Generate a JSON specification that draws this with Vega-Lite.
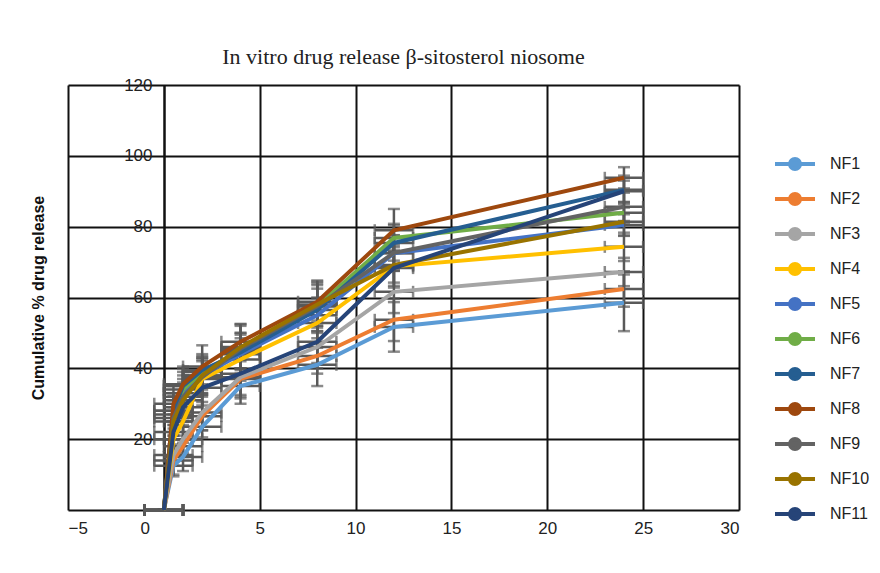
{
  "$schema": "https://vega.github.io/schema/vega-lite/v6.json",
  "width": 671,
  "height": 425,
  "autosize": "none",
  "padding": {"left": 68, "top": 85, "right": 141, "bottom": 63},
  "background": "white",
  "title": {
    "text": "In vitro drug release β-sitosterol niosome",
    "font": "Liberation Serif",
    "fontSize": 22,
    "fontWeight": "normal",
    "color": "#222222",
    "anchor": "middle",
    "offset": 7
  },
  "data": {
    "values": [
      {"f":"NF1","t":0,"v":0,"e":0,"h":1},{"f":"NF1","t":0.5,"v":12.5,"e":3,"h":1},{"f":"NF1","t":1,"v":15,"e":4,"h":1},{"f":"NF1","t":2,"v":23.5,"e":3,"h":1},{"f":"NF1","t":4,"v":35,"e":5,"h":1},{"f":"NF1","t":8,"v":41,"e":6,"h":1},{"f":"NF1","t":12,"v":51.7,"e":7,"h":1},{"f":"NF1","t":24,"v":58.5,"e":8,"h":1},
      {"f":"NF2","t":0,"v":0,"e":0,"h":1},{"f":"NF2","t":0.5,"v":14,"e":4,"h":1},{"f":"NF2","t":1,"v":18,"e":3,"h":1},{"f":"NF2","t":2,"v":26.5,"e":4,"h":1},{"f":"NF2","t":4,"v":37,"e":5,"h":1},{"f":"NF2","t":8,"v":43.5,"e":5,"h":1},{"f":"NF2","t":12,"v":53.7,"e":6,"h":1},{"f":"NF2","t":24,"v":62.4,"e":5,"h":1},
      {"f":"NF3","t":0,"v":0,"e":0,"h":1},{"f":"NF3","t":0.5,"v":15.5,"e":3,"h":1},{"f":"NF3","t":1,"v":20,"e":4,"h":1},{"f":"NF3","t":2,"v":27.5,"e":5,"h":1},{"f":"NF3","t":4,"v":37.5,"e":6,"h":1},{"f":"NF3","t":8,"v":46,"e":6,"h":1},{"f":"NF3","t":12,"v":61.6,"e":6,"h":1},{"f":"NF3","t":24,"v":67.2,"e":4,"h":1},
      {"f":"NF4","t":0,"v":0,"e":0,"h":1},{"f":"NF4","t":0.5,"v":20,"e":4,"h":1},{"f":"NF4","t":1,"v":25,"e":5,"h":1},{"f":"NF4","t":2,"v":37,"e":5,"h":1},{"f":"NF4","t":4,"v":42.5,"e":6,"h":1},{"f":"NF4","t":8,"v":52.8,"e":7,"h":1},{"f":"NF4","t":12,"v":68.8,"e":6,"h":1},{"f":"NF4","t":24,"v":74.3,"e":4,"h":1},
      {"f":"NF5","t":0,"v":0,"e":0,"h":1},{"f":"NF5","t":0.5,"v":27,"e":5,"h":1},{"f":"NF5","t":1,"v":33,"e":4,"h":1},{"f":"NF5","t":2,"v":38,"e":5,"h":1},{"f":"NF5","t":4,"v":44,"e":6,"h":1},{"f":"NF5","t":8,"v":55,"e":5,"h":1},{"f":"NF5","t":12,"v":72.5,"e":5,"h":1},{"f":"NF5","t":24,"v":80.5,"e":3,"h":1},
      {"f":"NF6","t":0,"v":0,"e":0,"h":1},{"f":"NF6","t":0.5,"v":28,"e":4,"h":1},{"f":"NF6","t":1,"v":34,"e":5,"h":1},{"f":"NF6","t":2,"v":39,"e":5,"h":1},{"f":"NF6","t":4,"v":45,"e":5,"h":1},{"f":"NF6","t":8,"v":57.5,"e":6,"h":1},{"f":"NF6","t":12,"v":76.8,"e":4,"h":1},{"f":"NF6","t":24,"v":83.9,"e":3,"h":1},
      {"f":"NF7","t":0,"v":0,"e":0,"h":1},{"f":"NF7","t":0.5,"v":28,"e":5,"h":1},{"f":"NF7","t":1,"v":35,"e":5,"h":1},{"f":"NF7","t":2,"v":39.5,"e":4,"h":1},{"f":"NF7","t":4,"v":44.5,"e":5,"h":1},{"f":"NF7","t":8,"v":56.5,"e":6,"h":1},{"f":"NF7","t":12,"v":75.4,"e":5,"h":1},{"f":"NF7","t":24,"v":90.4,"e":4,"h":1},
      {"f":"NF8","t":0,"v":0,"e":0,"h":1},{"f":"NF8","t":0.5,"v":30,"e":5,"h":1},{"f":"NF8","t":1,"v":35.5,"e":5,"h":1},{"f":"NF8","t":2,"v":40.5,"e":6,"h":1},{"f":"NF8","t":4,"v":47.5,"e":5,"h":1},{"f":"NF8","t":8,"v":58.8,"e":6,"h":1},{"f":"NF8","t":12,"v":79,"e":6,"h":1},{"f":"NF8","t":24,"v":93.8,"e":3,"h":1},
      {"f":"NF9","t":0,"v":0,"e":0,"h":1},{"f":"NF9","t":0.5,"v":26,"e":5,"h":1},{"f":"NF9","t":1,"v":32,"e":6,"h":1},{"f":"NF9","t":2,"v":37.5,"e":5,"h":1},{"f":"NF9","t":4,"v":45.5,"e":7,"h":1},{"f":"NF9","t":8,"v":57.5,"e":7,"h":1},{"f":"NF9","t":12,"v":72.6,"e":5,"h":1},{"f":"NF9","t":24,"v":85.6,"e":4,"h":1},
      {"f":"NF10","t":0,"v":0,"e":0,"h":1},{"f":"NF10","t":0.5,"v":25,"e":4,"h":1},{"f":"NF10","t":1,"v":31,"e":5,"h":1},{"f":"NF10","t":2,"v":38,"e":5,"h":1},{"f":"NF10","t":4,"v":46,"e":6,"h":1},{"f":"NF10","t":8,"v":58,"e":6,"h":1},{"f":"NF10","t":12,"v":69.2,"e":5,"h":1},{"f":"NF10","t":24,"v":81.4,"e":4,"h":1},
      {"f":"NF11","t":0,"v":0,"e":0,"h":1},{"f":"NF11","t":0.5,"v":22,"e":5,"h":1},{"f":"NF11","t":1,"v":29,"e":4,"h":1},{"f":"NF11","t":2,"v":34.5,"e":5,"h":1},{"f":"NF11","t":4,"v":38.5,"e":6,"h":1},{"f":"NF11","t":8,"v":47.5,"e":6,"h":1},{"f":"NF11","t":12,"v":68.3,"e":5,"h":1},{"f":"NF11","t":24,"v":90,"e":3,"h":1}
    ]
  },
  "config": {
    "view": {"stroke": null},
    "axis": {
      "labelFont": "Liberation Sans",
      "labelFontSize": 17,
      "labelColor": "#222222",
      "gridColor": "#111111",
      "gridWidth": 2,
      "gridOpacity": 1,
      "ticks": false
    }
  },
  "layer": [
    {
      "mark": {"type": "errorbar", "ticks": {"size": 12}, "color": "#595959", "thickness": 2.5},
      "encoding": {
        "x": {"field": "t", "type": "quantitative", "title": null},
        "y": {"field": "v", "type": "quantitative", "title": "Cumulative %  drug release"},
        "yError": {"field": "e"}
      }
    },
    {
      "mark": {"type": "errorbar", "ticks": {"size": 12}, "color": "#595959", "thickness": 2.5},
      "encoding": {
        "x": {"field": "t", "type": "quantitative", "title": null},
        "y": {"field": "v", "type": "quantitative", "title": "Cumulative %  drug release"},
        "xError": {"field": "h"}
      }
    },
    {
      "mark": {"type": "line", "strokeWidth": 4},
      "encoding": {
        "x": {
          "field": "t", "type": "quantitative", "title": null,
          "scale": {"domain": [-5, 30], "nice": false, "zero": false},
          "axis": {
            "title": null,
            "values": [-5, 0, 5, 10, 15, 20, 25, 30],
            "grid": true,
            "domainColor": "#111111",
            "domainWidth": 2,
            "labelPadding": 10,
            "labelOffset": {"condition": {"test": "datum.value === 0", "value": -19}, "value": 0}
          }
        },
        "y": {
          "field": "v", "type": "quantitative", "title": "Cumulative %  drug release",
          "scale": {"domain": [0, 120], "nice": false},
          "axis": {
            "title": "Cumulative %  drug release",
            "titleFont": "Liberation Sans",
            "titleFontSize": 16,
            "titleFontWeight": "bold",
            "titleColor": "#111111",
            "titleX": -118,
            "values": [20, 40, 60, 80, 100, 120],
            "grid": true,
            "domain": true,
            "domainColor": "#111111",
            "domainWidth": 2,
            "offset": -96,
            "labelPadding": 12
          }
        },
        "color": {
          "field": "f", "type": "nominal",
          "scale": {
            "domain": ["NF1","NF2","NF3","NF4","NF5","NF6","NF7","NF8","NF9","NF10","NF11"],
            "range": ["#5B9BD5","#ED7D31","#A5A5A5","#FFC000","#4472C4","#70AD47","#255E91","#9E480E","#636363","#997300","#264478"]
          },
          "legend": {
            "title": null,
            "orient": "none",
            "legendX": 705,
            "legendY": 57,
            "symbolType": "M-1,0H1M0.25,0A0.25,0.25 0 1,1 -0.25,0A0.25,0.25 0 1,1 0.25,0",
            "symbolSize": 1600,
            "symbolStrokeWidth": 4,
            "rowPadding": -6,
            "labelOffset": 13,
            "labelFont": "Liberation Sans",
            "labelFontSize": 16,
            "labelColor": "#222222",
            "encode": {
              "symbols": {"update": {"fill": {"scale": "color", "field": "value"}, "fillOpacity": {"value": 1}}}
            }
          }
        }
      }
    }
  ]
}
